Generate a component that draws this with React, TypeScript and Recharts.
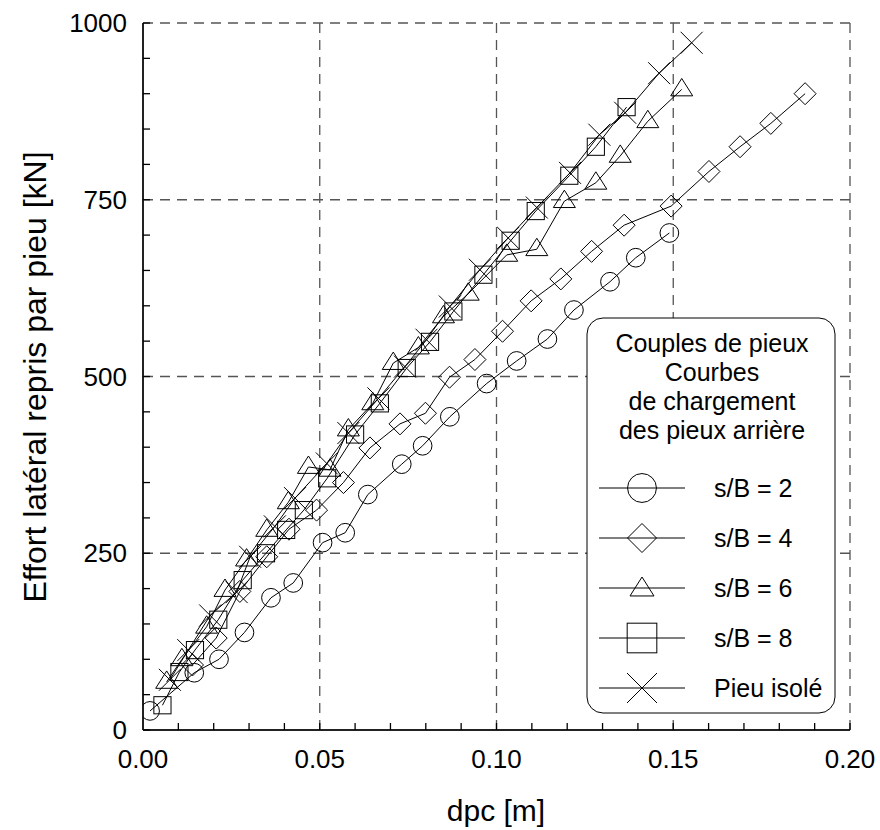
import React from 'react';
import { ScatterChart, Scatter, XAxis, YAxis, CartesianGrid, Customized } from 'recharts';

// ---- data (dpc [m], effort [kN]) ----
const sb2 = [
  [0.002, 27], [0.0145, 81], [0.0215, 100], [0.0287, 138], [0.0362, 187], [0.0425, 208],
  [0.0508, 265], [0.0572, 279], [0.0636, 333], [0.0732, 376], [0.0791, 402], [0.0868, 443],
  [0.0972, 490], [0.1057, 522], [0.1144, 553], [0.1219, 594], [0.1321, 634], [0.1394, 668],
  [0.1489, 703],
];
const sb4 = [
  [0.0140, 92], [0.0207, 130], [0.0274, 196], [0.035, 245], [0.0413, 284], [0.0491, 311],
  [0.0567, 350], [0.0642, 399], [0.0727, 433], [0.0799, 448], [0.0867, 499], [0.0939, 524],
  [0.1017, 564], [0.1098, 607], [0.1182, 638], [0.1269, 677], [0.1361, 714], [0.1494, 741],
  [0.1601, 790], [0.1689, 825], [0.1776, 858], [0.1873, 900],
];
const sb6 = [
  [0.0067, 68], [0.0110, 100], [0.0180, 146], [0.0232, 198], [0.0293, 241], [0.0350, 283],
  [0.0411, 322], [0.0468, 372], [0.0529, 368], [0.0581, 425], [0.0650, 462], [0.0708, 519],
  [0.0779, 541], [0.0850, 585], [0.0920, 617], [0.1029, 672], [0.1114, 680], [0.1192, 748],
  [0.1281, 774], [0.1350, 812], [0.1428, 861], [0.1524, 906],
];
const sb8 = [
  [0.0055, 35], [0.0103, 82], [0.0147, 113], [0.0213, 156], [0.0282, 212], [0.0348, 250],
  [0.0405, 283], [0.0455, 311], [0.0521, 356], [0.0600, 418], [0.0670, 462], [0.0746, 512],
  [0.0812, 549], [0.0878, 592], [0.0963, 644], [0.1040, 692], [0.1111, 734], [0.1206, 784],
  [0.1281, 825], [0.1368, 881],
];
const isole = [
  [0.0076, 71], [0.0128, 113], [0.0190, 162], [0.0265, 195], [0.0303, 245], [0.0373, 288],
  [0.0430, 328], [0.0520, 377], [0.0581, 420], [0.0666, 469], [0.0741, 514], [0.0802, 552],
  [0.0868, 599], [0.0953, 651], [0.1033, 696], [0.1114, 739], [0.1208, 788], [0.1291, 842],
  [0.1364, 873], [0.1460, 929], [0.1552, 972],
];

const xTicks = [0, 0.01, 0.02, 0.03, 0.04, 0.05, 0.06, 0.07, 0.08, 0.09, 0.1, 0.11, 0.12, 0.13,
  0.14, 0.15, 0.16, 0.17, 0.18, 0.19, 0.2];
const xMajor = [0, 0.05, 0.1, 0.15, 0.2];
const yTicks = [0, 50, 100, 150, 200, 250, 300, 350, 400, 450, 500, 550, 600, 650, 700, 750,
  800, 850, 900, 950, 1000];
const yMajor = [0, 250, 500, 750, 1000];

const legendTitle = ['Couples de pieux', 'Courbes', 'de chargement', 'des pieux arrière'];
const seriesNames = ['s/B = 2', 's/B = 4', 's/B = 6', 's/B = 8', 'Pieu isolé'];

const FONT = '"Liberation Sans", Arial, Helvetica, sans-serif';
const toPts = (arr: number[][]) => arr.map(([x, y]) => ({ x, y }));

type Kind = 'circle' | 'diamond' | 'triangle' | 'square' | 'cross';

function Marker({ kind, cx, cy, s }: { kind: Kind; cx: number; cy: number; s: number }) {
  const common = { fill: 'none', stroke: '#000', strokeWidth: 1 };
  if (kind === 'circle') return <circle cx={cx} cy={cy} r={s * 0.85} {...common} />;
  if (kind === 'diamond')
    return <polygon points={`${cx},${cy - s} ${cx + s},${cy} ${cx},${cy + s} ${cx - s},${cy}`} {...common} />;
  if (kind === 'triangle')
    return <polygon points={`${cx},${cy - s} ${cx + s},${cy + s * 0.58} ${cx - s},${cy + s * 0.58}`} {...common} />;
  if (kind === 'square') {
    const h = s * 0.78;
    return <rect x={cx - h} y={cy - h} width={2 * h} height={2 * h} {...common} />;
  }
  const h = s;
  return (
    <g>
      <line x1={cx - h} y1={cy - h} x2={cx + h} y2={cy + h} stroke="#000" strokeWidth={1} />
      <line x1={cx - h} y1={cy + h} x2={cx + h} y2={cy - h} stroke="#000" strokeWidth={1} />
    </g>
  );
}

const kinds: Kind[] = ['circle', 'diamond', 'triangle', 'square', 'cross'];
const allSeries = [sb2, sb4, sb6, sb8, isole];

const makeShape = (kind: Kind) => (props: any) => (
  <Marker kind={kind} cx={props.cx} cy={props.cy} s={11} />
);

function Decor() {
  const lx = 587, ly = 318, lw = 248, lh = 395;
  const rowY = [488, 538, 588, 638, 688];
  const legendSize: Record<Kind, number> = { circle: 17, diamond: 14.5, triangle: 12, square: 19, cross: 15 };
  return (
    <g fontFamily={FONT}>
      <rect x={lx} y={ly} width={lw} height={lh} rx={16} ry={16} fill="#fff" stroke="#000" strokeWidth={1} />
      {legendTitle.map((t, i) => (
        <text key={t} x={712} y={352 + i * 29} textAnchor="middle" fontSize={25} fill="#000">{t}</text>
      ))}
      {seriesNames.map((n, i) => (
        <g key={n}>
          <line x1={599} x2={685} y1={rowY[i]} y2={rowY[i]} stroke="#000" strokeWidth={1} />
          <Marker kind={kinds[i]} cx={642} cy={kinds[i] === 'triangle' ? rowY[i] + 1 : rowY[i]} s={legendSize[kinds[i]]} />
          <text x={714} y={rowY[i] + 9} fontSize={25} fill="#000">{n}</text>
        </g>
      ))}
      <text x={496} y={821} textAnchor="middle" fontSize={30} fill="#000">dpc [m]</text>
      <text x={0} y={0} transform="translate(46,377) rotate(-90)" textAnchor="middle" fontSize={32} fill="#000">
        Effort latéral repris par pieu [kN]
      </text>
    </g>
  );
}

export default function App() {
  return (
    <div style={{ position: 'absolute', left: 0, top: 0, width: 880, height: 830, background: '#fff' }}>
      <ScatterChart width={880} height={830} margin={{ top: 23, right: 30, bottom: 0, left: 0 }}>
        <CartesianGrid
          horizontalValues={yMajor}
          verticalValues={xMajor}
          stroke="#555"
          strokeWidth={1.3}
          strokeDasharray="10 7"
        />
        <XAxis
          type="number"
          dataKey="x"
          domain={[0, 0.2]}
          ticks={xTicks}
          interval={0}
          height={100}
          allowDataOverflow
          tickSize={-7}
          tickMargin={27}
          tickLine={{ stroke: '#000', strokeWidth: 1.3 }}
          axisLine={{ stroke: '#222', strokeWidth: 2 }}
          tick={{ fontSize: 26, fill: '#000', fontFamily: FONT }}
          tickFormatter={(v: number) => (Math.round(v * 100) % 5 === 0 ? v.toFixed(2) : '')}
        />
        <XAxis
          xAxisId="top"
          orientation="top"
          type="number"
          domain={[0, 0.2]}
          ticks={xTicks}
          interval={0}
          height={0}
          tickSize={-7}
          tick={false}
          tickLine={{ stroke: '#000', strokeWidth: 1.3 }}
          axisLine={{ stroke: '#222', strokeWidth: 2 }}
        />
        <YAxis
          type="number"
          dataKey="y"
          domain={[0, 1000]}
          ticks={yTicks}
          interval={0}
          width={143}
          tickSize={-7}
          tickMargin={23}
          tickLine={{ stroke: '#000', strokeWidth: 1.3 }}
          axisLine={{ stroke: '#222', strokeWidth: 2 }}
          tick={{ fontSize: 26, fill: '#000', fontFamily: FONT }}
          tickFormatter={(v: number) => (v % 250 === 0 ? String(v) : '')}
        />
        <YAxis
          yAxisId="right"
          orientation="right"
          type="number"
          domain={[0, 1000]}
          ticks={yTicks}
          interval={0}
          width={0}
          tickSize={-7}
          tick={false}
          tickLine={{ stroke: '#000', strokeWidth: 1.3 }}
          axisLine={{ stroke: '#222', strokeWidth: 2 }}
        />
        {allSeries.map((s, i) => (
          <Scatter
            key={seriesNames[i]}
            name={seriesNames[i]}
            data={toPts(s)}
            line={{ stroke: '#000', strokeWidth: 1 }}
            lineType="joint"
            shape={makeShape(kinds[i])}
            isAnimationActive={false}
          />
        ))}
        <Customized component={Decor} />
      </ScatterChart>
    </div>
  );
}
